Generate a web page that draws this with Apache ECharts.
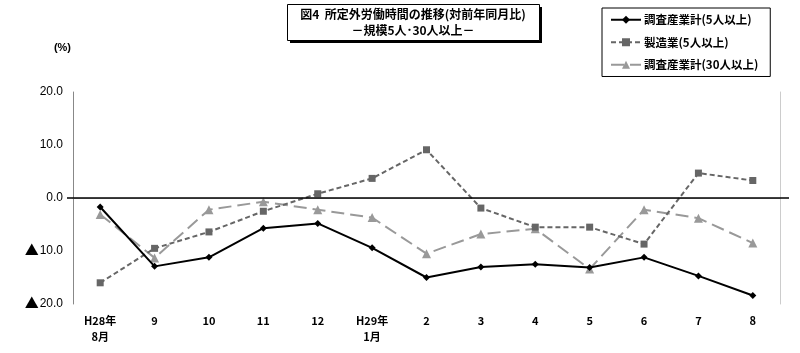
<!DOCTYPE html>
<html>
<head>
<meta charset="utf-8">
<script src="https://cdn.jsdelivr.net/npm/echarts@6/dist/echarts.min.js"></script>
<style>
  html, body { margin: 0; padding: 0; background: #fff; }
  #chart { width: 800px; height: 353px; }
</style>
</head>
<body>
<div id="chart"></div>
<script>
// 所定外労働時間の推移（対前年同月比, %）
const months = ['H28年\n8月', '9', '10', '11', '12', 'H29年\n1月', '2', '3', '4', '5', '6', '7', '8'];
const total5 = [-1.7, -12.9, -11.2, -5.7, -4.8, -9.4, -15.0, -13.0, -12.5, -13.1, -11.2, -14.7, -18.4];
const manuf5 = [-16.0, -9.5, -6.4, -2.5, 0.8, 3.7, 9.1, -1.9, -5.5, -5.5, -8.7, 4.7, 3.3];
const total30 = [-3.1, -11.3, -2.2, -0.7, -2.2, -3.7, -10.5, -6.8, -5.8, -13.4, -2.2, -3.8, -8.5];
const seriesNames = ['調査産業計(5人以上)', '製造業(5人以上)', '調査産業計(30人以上)'];

const JP = "'Noto Sans CJK JP', sans-serif";
const NUM = "'Liberation Sans', 'Noto Sans CJK JP', sans-serif";

const chart = echarts.init(document.getElementById('chart'), null, { renderer: 'canvas' });

// negative values are written with ▲ (Japanese statistics convention)
const fmtPct = v => (v < 0 ? '{tri|▲}' + (-v).toFixed(1) : v.toFixed(1));

chart.setOption({
    animation: false,
    backgroundColor: '#fff',
    grid: { left: 73, right: 20, top: 92, bottom: 49 },
    legend: {
        orient: 'vertical',
        left: 602,
        top: 8,
        padding: [6, 12, 6, 8],
        itemGap: 11,
        itemWidth: 30,
        itemHeight: 10,
        borderColor: '#000',
        borderWidth: 1,
        backgroundColor: '#fff',
        textStyle: { fontFamily: JP, fontSize: 11.5, fontWeight: 'bold', color: '#000', padding: [0, 0, 0, -2] },
        data: seriesNames
    },
    graphic: [
        { type: 'rect', left: 290, top: 7, shape: { width: 252, height: 36 }, style: { fill: '#000' }, z: 10 },
        { type: 'rect', left: 287, top: 4, shape: { width: 252, height: 36 }, style: { fill: '#fff', stroke: '#000', lineWidth: 1 }, z: 11 },
        {
            type: 'text', x: 413, y: 8, z: 12,
            style: { text: '図4  所定外労働時間の推移(対前年同月比)', font: "bold 12px 'Noto Sans CJK JP'", fill: '#000', align: 'center' }
        },
        {
            type: 'text', x: 413, y: 24, z: 12,
            style: { text: '－規模5人･30人以上－', font: "bold 12px 'Noto Sans CJK JP'", fill: '#000', align: 'center' }
        }
    ],
    xAxis: {
        type: 'category',
        data: months,
        boundaryGap: true,
        axisLine: { show: true, lineStyle: { color: '#bbb', width: 1 } },
        axisTick: { show: false },
        axisLabel: {
            margin: 9, fontFamily: JP, fontSize: 11, fontWeight: 'bold', color: '#000', lineHeight: 16
        },
        splitLine: { show: false }
    },
    yAxis: [
        {
            type: 'value',
            min: -20, max: 20, interval: 10,
            name: '(%)',
            nameLocation: 'end',
            nameGap: 39,
            nameTextStyle: { fontFamily: NUM, fontSize: 11, fontWeight: 'bold', color: '#000', align: 'right', padding: [0, 2, 0, 0] },
            axisLine: { show: true, lineStyle: { color: '#888', width: 1 } },
            axisTick: { show: true, customValues: [0], length: 6, lineStyle: { color: '#000', width: 1.5 } },
            axisLabel: {
                margin: 10, fontFamily: NUM, fontSize: 12, color: '#000', formatter: fmtPct,
                rich: { tri: { fontFamily: JP, fontSize: 14, color: '#000', padding: [0, 1, 3, 0] } }
            },
            splitLine: { show: true, lineStyle: { color: '#888', width: 1 } }
        },
        {
            type: 'value',
            position: 'right',
            min: -20, max: 20, interval: 10,
            axisLine: { show: true, lineStyle: { color: '#ccc', width: 1 } },
            axisTick: { show: true, inside: false, customValues: [0], length: 9, lineStyle: { color: '#000', width: 1.5 } },
            axisLabel: { show: false },
            splitLine: { show: false }
        }
    ],
    series: [
        {
            name: seriesNames[0],
            type: 'line',
            data: total5,
            symbol: 'diamond',
            symbolSize: 7,
            itemStyle: { color: '#000' },
            lineStyle: { color: '#000', width: 2, type: 'solid' },
            z: 5,
            markLine: {
                silent: true,
                symbol: 'none',
                label: { show: false },
                lineStyle: { color: '#000', width: 1.5, type: 'solid' },
                data: [{ yAxis: 0 }]
            }
        },
        {
            name: seriesNames[1],
            type: 'line',
            data: manuf5,
            symbol: 'rect',
            symbolSize: 7,
            itemStyle: { color: '#666' },
            lineStyle: { color: '#666', width: 2, type: [5, 3] },
            z: 4
        },
        {
            name: seriesNames[2],
            type: 'line',
            data: total30,
            symbol: 'triangle',
            symbolSize: 9,
            itemStyle: { color: '#999' },
            lineStyle: { color: '#999', width: 2, type: [13, 6] },
            z: 3
        }
    ]
});
</script>
</body>
</html>
